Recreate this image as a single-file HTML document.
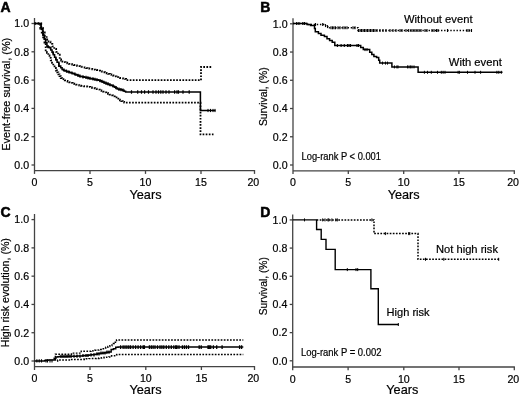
<!DOCTYPE html>
<html><head><meta charset="utf-8"><style>
html,body{margin:0;padding:0;background:#fff;}
svg{display:block;will-change:transform;}
text{font-family:"Liberation Sans", sans-serif;fill:#000;stroke:#000;stroke-width:0.2;}
.lb{stroke-width:0.5;}
</style></head><body>
<svg width="520" height="395" viewBox="0 0 520 395">
<rect width="520" height="395" fill="#fff"/>
<line x1="34.5" y1="18.0" x2="34.5" y2="173.9" stroke="#444" stroke-width="1.3"/>
<line x1="34.5" y1="170.6" x2="255.1" y2="170.6" stroke="#444" stroke-width="1.3"/>
<line x1="90.0" y1="170.6" x2="90.0" y2="173.9" stroke="#444" stroke-width="1.3"/>
<line x1="145.5" y1="170.6" x2="145.5" y2="173.9" stroke="#444" stroke-width="1.3"/>
<line x1="201.0" y1="170.6" x2="201.0" y2="173.9" stroke="#444" stroke-width="1.3"/>
<line x1="254.5" y1="170.6" x2="254.5" y2="173.9" stroke="#444" stroke-width="1.3"/>
<line x1="31.5" y1="23.5" x2="34.5" y2="23.5" stroke="#444" stroke-width="1.3"/>
<text x="29.1" y="27.3" font-size="10.6" text-anchor="end">1.0</text>
<line x1="31.5" y1="51.8" x2="34.5" y2="51.8" stroke="#444" stroke-width="1.3"/>
<text x="29.1" y="55.6" font-size="10.6" text-anchor="end">0.8</text>
<line x1="31.5" y1="80.1" x2="34.5" y2="80.1" stroke="#444" stroke-width="1.3"/>
<text x="29.1" y="83.9" font-size="10.6" text-anchor="end">0.6</text>
<line x1="31.5" y1="108.4" x2="34.5" y2="108.4" stroke="#444" stroke-width="1.3"/>
<text x="29.1" y="112.2" font-size="10.6" text-anchor="end">0.4</text>
<line x1="31.5" y1="136.7" x2="34.5" y2="136.7" stroke="#444" stroke-width="1.3"/>
<text x="29.1" y="140.5" font-size="10.6" text-anchor="end">0.2</text>
<line x1="31.5" y1="165.0" x2="34.5" y2="165.0" stroke="#444" stroke-width="1.3"/>
<text x="29.1" y="168.8" font-size="10.6" text-anchor="end">0.0</text>
<text x="34.5" y="186.2" font-size="10.6" text-anchor="middle">0</text>
<text x="90.0" y="186.2" font-size="10.6" text-anchor="middle">5</text>
<text x="145.5" y="186.2" font-size="10.6" text-anchor="middle">10</text>
<text x="201.0" y="186.2" font-size="10.6" text-anchor="middle">15</text>
<text x="247.4" y="186.2" font-size="10.6">20</text>
<text x="145.5" y="198.5" font-size="13" text-anchor="middle" textLength="32" lengthAdjust="spacingAndGlyphs">Years</text>
<text x="0.6" y="11.9" font-size="14" font-weight="bold" class="lb">A</text>
<text transform="translate(9.6,94.3) rotate(-90)" font-size="11" text-anchor="middle" textLength="113" lengthAdjust="spacingAndGlyphs">Event-free survival, (%)</text>
<path d="M34.50,23.50H40.30H41.15V29.00H42.00H42.90V35.10H43.80H44.42V38.90H45.67V42.70H46.30H46.95V46.50H47.60H48.23V47.10H49.48V47.70H50.10H50.75V49.95H52.05V52.20H52.70H53.33V54.70H54.58V57.20H55.20H55.83V59.75H57.08V62.30H57.70H58.85V66.10H60.00H60.70V67.80H62.10V69.50H62.80H63.45V70.15H64.75V70.80H65.40H66.21V71.34H67.83V71.88H69.45V72.42H71.07V72.96H72.69V73.50H73.50H74.34V74.17H76.01V74.85H77.69V75.53H79.36V76.20H80.20H80.98V76.53H82.55V76.87H84.12V77.20H85.68V77.53H87.25V77.87H88.82V78.20H89.60H90.38V78.53H91.95V78.87H93.52V79.20H95.08V79.53H96.65V79.87H98.22V80.20H99.00H99.81V80.88H101.43V81.56H103.05V82.24H104.67V82.92H106.29V83.60H107.10H107.94V84.25H109.61V84.90H111.29V85.55H112.96V86.20H113.80H114.48V87.10H115.85V88.00H117.22V88.90H117.90H118.80V89.37H120.60V89.83H122.40V90.30H123.30H124.08V91.15H125.62V92.00H126.40H200.4V110.5H215.5" fill="none" stroke="#000" stroke-width="1.55"/>
<path d="M131.5,90.30v3.4M137.7,90.30v3.4M141.5,90.30v3.4M144.6,90.30v3.4M148.5,90.30v3.4M153,90.30v3.4M156,90.30v3.4M158.5,90.30v3.4M160.8,90.30v3.4M163,90.30v3.4M166,90.30v3.4M169,90.30v3.4M174.6,90.30v3.4M177,90.30v3.4M178.5,90.30v3.4M183,90.30v3.4M189.2,90.30v3.4" stroke="#000" stroke-width="1.2"/>
<path d="M208,108.90v3.2M210.5,108.90v3.2M213,108.90v3.2M215,108.90v3.2" stroke="#000" stroke-width="1.0"/>
<path d="M43,30.79v3.2" stroke="#000" stroke-width="1.2"/>
<path d="M45.5,38.67v3.2" stroke="#000" stroke-width="1.2"/>
<path d="M48,45.09v3.2" stroke="#000" stroke-width="1.2"/>
<path d="M50.5,46.79v3.2" stroke="#000" stroke-width="1.2"/>
<path d="M53,51.20v3.2" stroke="#000" stroke-width="1.2"/>
<path d="M56,57.23v3.2" stroke="#000" stroke-width="1.2"/>
<path d="M59,62.85v3.2" stroke="#000" stroke-width="1.2"/>
<path d="M64,68.50v3.2" stroke="#000" stroke-width="1.2"/>
<path d="M66.5,69.57v3.2" stroke="#000" stroke-width="1.2"/>
<path d="M69,70.40v3.2" stroke="#000" stroke-width="1.2"/>
<path d="M72,71.40v3.2" stroke="#000" stroke-width="1.2"/>
<path d="M75,72.50v3.2" stroke="#000" stroke-width="1.2"/>
<path d="M78,73.71v3.2" stroke="#000" stroke-width="1.2"/>
<path d="M80,74.52v3.2" stroke="#000" stroke-width="1.2"/>
<path d="M83,75.20v3.2" stroke="#000" stroke-width="1.2"/>
<path d="M86,75.83v3.2" stroke="#000" stroke-width="1.2"/>
<path d="M88,76.26v3.2" stroke="#000" stroke-width="1.2"/>
<path d="M90,76.69v3.2" stroke="#000" stroke-width="1.2"/>
<path d="M93,77.32v3.2" stroke="#000" stroke-width="1.2"/>
<path d="M95,77.75v3.2" stroke="#000" stroke-width="1.2"/>
<path d="M97,78.17v3.2" stroke="#000" stroke-width="1.2"/>
<path d="M100,79.02v3.2" stroke="#000" stroke-width="1.2"/>
<path d="M102,79.86v3.2" stroke="#000" stroke-width="1.2"/>
<path d="M104,80.70v3.2" stroke="#000" stroke-width="1.2"/>
<path d="M106,81.54v3.2" stroke="#000" stroke-width="1.2"/>
<path d="M108,82.35v3.2" stroke="#000" stroke-width="1.2"/>
<path d="M110,83.13v3.2" stroke="#000" stroke-width="1.2"/>
<path d="M113,84.29v3.2" stroke="#000" stroke-width="1.2"/>
<path d="M116,86.05v3.2" stroke="#000" stroke-width="1.2"/>
<path d="M119,87.59v3.2" stroke="#000" stroke-width="1.2"/>
<path d="M121,88.10v3.2" stroke="#000" stroke-width="1.2"/>
<path d="M123,88.62v3.2" stroke="#000" stroke-width="1.2"/>
<path d="M34.50,23.50H40.50H41.25V28.00H42.00H42.90V32.50H43.80H44.75V36.00H46.65V39.50H47.60H48.55V41.70H50.45V43.90H51.40H52.35V46.45H54.25V49.00H55.20H56.15V51.85H58.05V54.70H59.00H59.75V59.50H60.50H61.12V60.50H62.38V61.50H63.00H63.85V62.13H65.55V62.77H67.25V63.40H68.10H68.91V63.80H70.53V64.20H72.15V64.60H73.77V65.00H75.39V65.40H76.20H76.96V65.79H78.49V66.17H80.02V66.56H81.55V66.94H83.08V67.33H84.61V67.71H86.14V68.10H86.90H87.67V68.39H89.21V68.67H90.76V68.96H92.30V69.24H93.84V69.53H95.39V69.81H96.93V70.10H97.70H98.51V70.64H100.13V71.18H101.75V71.72H103.37V72.26H104.99V72.80H105.80H106.60V73.34H108.20V73.88H109.80V74.42H111.40V74.96H113.00V75.50H113.80H114.70V76.33H116.50V77.17H118.30V78.00H119.20H120.03V78.20H121.67V78.40H123.33V78.60H124.97V78.80H125.80H126.15V80.20H126.50H201V67H212" fill="none" stroke="#000" stroke-width="1.8" stroke-dasharray="1.7 1.4"/>
<path d="M34.50,23.50H39.50H40.25V28.50H41.00H41.75V33.80H42.50H43.15V38.25H44.45V42.70H45.10H45.70V50.30H46.30H46.95V52.80H48.25V55.30H48.90H49.52V57.85H50.77V60.40H51.40H52.02V62.90H53.27V65.40H53.90H54.55V67.95H55.85V70.50H56.50H57.12V72.40H58.38V74.30H59.00H59.50V76.20H60.00H60.75V78.10H61.50H62.15V79.05H63.45V80.00H64.10H64.75V80.45H66.05V80.90H66.70H67.55V81.58H69.25V82.25H70.95V82.92H72.65V83.60H73.50H74.34V84.10H76.01V84.60H77.69V85.10H79.36V85.60H80.20H80.98V85.82H82.55V86.03H84.12V86.25H85.68V86.47H87.25V86.68H88.82V86.90H89.60H90.38V87.35H91.95V87.80H93.52V88.25H95.08V88.70H96.65V89.15H98.22V89.60H99.00H99.81V90.28H101.43V90.96H103.05V91.64H104.67V92.32H106.29V93.00H107.10H107.94V93.83H109.61V94.65H111.29V95.47H112.96V96.30H113.80H114.70V97.43H116.50V98.57H118.30V99.70H119.20H119.91V100.42H121.34V101.15H122.76V101.88H124.19V102.60H124.90H200.5V134.4H213.5" fill="none" stroke="#000" stroke-width="1.8" stroke-dasharray="1.7 1.4"/>
<line x1="293.0" y1="18.2" x2="293.0" y2="174.10000000000002" stroke="#444" stroke-width="1.3"/>
<line x1="293.0" y1="170.8" x2="514.9" y2="170.8" stroke="#444" stroke-width="1.3"/>
<line x1="348.3" y1="170.8" x2="348.3" y2="174.10000000000002" stroke="#444" stroke-width="1.3"/>
<line x1="403.7" y1="170.8" x2="403.7" y2="174.10000000000002" stroke="#444" stroke-width="1.3"/>
<line x1="458.9" y1="170.8" x2="458.9" y2="174.10000000000002" stroke="#444" stroke-width="1.3"/>
<line x1="514.3" y1="170.8" x2="514.3" y2="174.10000000000002" stroke="#444" stroke-width="1.3"/>
<line x1="290.0" y1="23.8" x2="293.0" y2="23.8" stroke="#444" stroke-width="1.3"/>
<text x="287.6" y="27.6" font-size="10.6" text-anchor="end">1.0</text>
<line x1="290.0" y1="52.04" x2="293.0" y2="52.04" stroke="#444" stroke-width="1.3"/>
<text x="287.6" y="55.84" font-size="10.6" text-anchor="end">0.8</text>
<line x1="290.0" y1="80.28" x2="293.0" y2="80.28" stroke="#444" stroke-width="1.3"/>
<text x="287.6" y="84.08" font-size="10.6" text-anchor="end">0.6</text>
<line x1="290.0" y1="108.52" x2="293.0" y2="108.52" stroke="#444" stroke-width="1.3"/>
<text x="287.6" y="112.32" font-size="10.6" text-anchor="end">0.4</text>
<line x1="290.0" y1="136.76" x2="293.0" y2="136.76" stroke="#444" stroke-width="1.3"/>
<text x="287.6" y="140.56" font-size="10.6" text-anchor="end">0.2</text>
<line x1="290.0" y1="165.0" x2="293.0" y2="165.0" stroke="#444" stroke-width="1.3"/>
<text x="287.6" y="168.8" font-size="10.6" text-anchor="end">0.0</text>
<text x="293.0" y="186.4" font-size="10.6" text-anchor="middle">0</text>
<text x="348.3" y="186.4" font-size="10.6" text-anchor="middle">5</text>
<text x="403.7" y="186.4" font-size="10.6" text-anchor="middle">10</text>
<text x="458.9" y="186.4" font-size="10.6" text-anchor="middle">15</text>
<text x="507.2" y="186.4" font-size="10.6">20</text>
<text x="403.7" y="198.5" font-size="13" text-anchor="middle" textLength="32" lengthAdjust="spacingAndGlyphs">Years</text>
<text x="260.2" y="11.9" font-size="14" font-weight="bold" class="lb">B</text>
<text transform="translate(267.3,96.7) rotate(-90)" font-size="11" text-anchor="middle" textLength="58.7" lengthAdjust="spacingAndGlyphs">Survival, (%)</text>
<path d="M293,23.5H307V24.5H324.5V25.6H327V26.6H329.5V27.8H358V30.5H472" fill="none" stroke="#000" stroke-width="1.4" stroke-dasharray="1.4 1.7"/>
<path d="M315.5,23.00v3.0" stroke="#000" stroke-width="1.1"/>
<path d="M322.7,23.00v3.0" stroke="#000" stroke-width="1.1"/>
<path d="M325.5,24.10v3.0" stroke="#000" stroke-width="1.1"/>
<path d="M327.5,25.10v3.0" stroke="#000" stroke-width="1.1"/>
<path d="M331,26.30v3.0" stroke="#000" stroke-width="1.1"/>
<path d="M332.5,26.30v3.0" stroke="#000" stroke-width="1.1"/>
<path d="M334,26.30v3.0" stroke="#000" stroke-width="1.1"/>
<path d="M335.5,26.30v3.0" stroke="#000" stroke-width="1.1"/>
<path d="M338,26.30v3.0" stroke="#000" stroke-width="1.1"/>
<path d="M340,26.30v3.0" stroke="#000" stroke-width="1.1"/>
<path d="M343,26.30v3.0" stroke="#000" stroke-width="1.1"/>
<path d="M345,26.30v3.0" stroke="#000" stroke-width="1.1"/>
<path d="M347,26.30v3.0" stroke="#000" stroke-width="1.1"/>
<path d="M353,26.30v3.0" stroke="#000" stroke-width="1.1"/>
<path d="M355,26.30v3.0" stroke="#000" stroke-width="1.1"/>
<path d="M358.5,29.00v3.0" stroke="#000" stroke-width="1.1"/>
<path d="M360,29.00v3.0" stroke="#000" stroke-width="1.1"/>
<path d="M361.5,29.00v3.0" stroke="#000" stroke-width="1.1"/>
<path d="M363,29.00v3.0" stroke="#000" stroke-width="1.1"/>
<path d="M364.5,29.00v3.0" stroke="#000" stroke-width="1.1"/>
<path d="M366,29.00v3.0" stroke="#000" stroke-width="1.1"/>
<path d="M367.5,29.00v3.0" stroke="#000" stroke-width="1.1"/>
<path d="M369,29.00v3.0" stroke="#000" stroke-width="1.1"/>
<path d="M370.5,29.00v3.0" stroke="#000" stroke-width="1.1"/>
<path d="M372,29.00v3.0" stroke="#000" stroke-width="1.1"/>
<path d="M373.5,29.00v3.0" stroke="#000" stroke-width="1.1"/>
<path d="M375,29.00v3.0" stroke="#000" stroke-width="1.1"/>
<path d="M377,29.00v3.0" stroke="#000" stroke-width="1.1"/>
<path d="M380,29.00v3.0" stroke="#000" stroke-width="1.1"/>
<path d="M383,29.00v3.0" stroke="#000" stroke-width="1.1"/>
<path d="M386,29.00v3.0" stroke="#000" stroke-width="1.1"/>
<path d="M390,29.00v3.0" stroke="#000" stroke-width="1.1"/>
<path d="M393,29.00v3.0" stroke="#000" stroke-width="1.1"/>
<path d="M396,29.00v3.0" stroke="#000" stroke-width="1.1"/>
<path d="M400,29.00v3.0" stroke="#000" stroke-width="1.1"/>
<path d="M402,29.00v3.0" stroke="#000" stroke-width="1.1"/>
<path d="M406,29.00v3.0" stroke="#000" stroke-width="1.1"/>
<path d="M408.7,29.00v3.0" stroke="#000" stroke-width="1.1"/>
<path d="M411,29.00v3.0" stroke="#000" stroke-width="1.1"/>
<path d="M413,29.00v3.0" stroke="#000" stroke-width="1.1"/>
<path d="M415,29.00v3.0" stroke="#000" stroke-width="1.1"/>
<path d="M417,29.00v3.0" stroke="#000" stroke-width="1.1"/>
<path d="M419,29.00v3.0" stroke="#000" stroke-width="1.1"/>
<path d="M421,29.00v3.0" stroke="#000" stroke-width="1.1"/>
<path d="M425,29.00v3.0" stroke="#000" stroke-width="1.1"/>
<path d="M427,29.00v3.0" stroke="#000" stroke-width="1.1"/>
<path d="M432,29.00v3.0" stroke="#000" stroke-width="1.1"/>
<path d="M434,29.00v3.0" stroke="#000" stroke-width="1.1"/>
<path d="M436.5,29.00v3.0" stroke="#000" stroke-width="1.1"/>
<path d="M438,29.00v3.0" stroke="#000" stroke-width="1.1"/>
<path d="M447.5,29.00v3.0" stroke="#000" stroke-width="1.1"/>
<path d="M467,29.00v3.0" stroke="#000" stroke-width="1.1"/>
<path d="M469,29.00v3.0" stroke="#000" stroke-width="1.1"/>
<path d="M471.5,29.00v3.0" stroke="#000" stroke-width="1.1"/>
<path d="M293,23.5H307V24.5H310.5V25.5H314.5V28.5H315.3V31.8H318.4V33.6H321V35.3H324.4V36.6H327V38.8H329.6V40.5H332.2V42.2H334.8V45.5H360.7V47.5H363.3V49.6H369.7V52.3H371.8V54.4H373.9V56.5H376.6V57.6H378.7V60.2H379.7V63.1H391.9V66.9H418.1V72.3H502.5" fill="none" stroke="#000" stroke-width="1.5"/>
<path d="M296.7,22.00v3.0M298.9,22.00v3.0M302.8,22.00v3.0M304.5,22.00v3.0" stroke="#000" stroke-width="1.1"/>
<path d="M337.4,44.00v3.0M341.1,44.00v3.0M344.3,44.00v3.0M347.5,44.00v3.0M349,44.00v3.0M350.5,44.00v3.0M357,44.00v3.0M358.5,44.00v3.0" stroke="#000" stroke-width="1.1"/>
<path d="M365,48.10v3.0M367,48.10v3.0" stroke="#000" stroke-width="1.0"/>
<path d="M382.5,61.60v3.0M385.5,61.60v3.0M387.5,61.60v3.0" stroke="#000" stroke-width="1.0"/>
<path d="M394.4,65.40v3.0M396.9,65.40v3.0M398,65.40v3.0M407.5,65.40v3.0M409,65.40v3.0M410.6,65.40v3.0M412,65.40v3.0M414,65.40v3.0" stroke="#000" stroke-width="1.0"/>
<path d="M424.4,70.80v3.0M427.5,70.80v3.0M431.3,70.80v3.0M437.5,70.80v3.0M441.3,70.80v3.0M443.1,70.80v3.0M445,70.80v3.0M458.1,70.80v3.0M459.4,70.80v3.0M467.5,70.80v3.0M475,70.80v3.0M480.6,70.80v3.0M496.9,70.80v3.0M498.8,70.80v3.0M501.3,70.80v3.0" stroke="#000" stroke-width="1.0"/>
<text x="404.0" y="22.6" font-size="11" textLength="68.5" lengthAdjust="spacingAndGlyphs">Without event</text>
<text x="448.8" y="65.8" font-size="11" textLength="53" lengthAdjust="spacingAndGlyphs">With event</text>
<text x="301.5" y="160.3" font-size="10.5" textLength="79.5" lengthAdjust="spacingAndGlyphs">Log-rank P &lt; 0.001</text>
<line x1="34.5" y1="214.0" x2="34.5" y2="370.0" stroke="#444" stroke-width="1.3"/>
<line x1="34.5" y1="366.7" x2="255.1" y2="366.7" stroke="#444" stroke-width="1.3"/>
<line x1="90.0" y1="366.7" x2="90.0" y2="370.0" stroke="#444" stroke-width="1.3"/>
<line x1="145.8" y1="366.7" x2="145.8" y2="370.0" stroke="#444" stroke-width="1.3"/>
<line x1="201.4" y1="366.7" x2="201.4" y2="370.0" stroke="#444" stroke-width="1.3"/>
<line x1="254.5" y1="366.7" x2="254.5" y2="370.0" stroke="#444" stroke-width="1.3"/>
<line x1="31.5" y1="219.6" x2="34.5" y2="219.6" stroke="#444" stroke-width="1.3"/>
<text x="29.1" y="223.4" font-size="10.6" text-anchor="end">1.0</text>
<line x1="31.5" y1="247.88" x2="34.5" y2="247.88" stroke="#444" stroke-width="1.3"/>
<text x="29.1" y="251.68" font-size="10.6" text-anchor="end">0.8</text>
<line x1="31.5" y1="276.15999999999997" x2="34.5" y2="276.15999999999997" stroke="#444" stroke-width="1.3"/>
<text x="29.1" y="279.96" font-size="10.6" text-anchor="end">0.6</text>
<line x1="31.5" y1="304.44" x2="34.5" y2="304.44" stroke="#444" stroke-width="1.3"/>
<text x="29.1" y="308.24" font-size="10.6" text-anchor="end">0.4</text>
<line x1="31.5" y1="332.72" x2="34.5" y2="332.72" stroke="#444" stroke-width="1.3"/>
<text x="29.1" y="336.52" font-size="10.6" text-anchor="end">0.2</text>
<line x1="31.5" y1="361.0" x2="34.5" y2="361.0" stroke="#444" stroke-width="1.3"/>
<text x="29.1" y="364.8" font-size="10.6" text-anchor="end">0.0</text>
<text x="34.5" y="382.3" font-size="10.6" text-anchor="middle">0</text>
<text x="90.0" y="382.3" font-size="10.6" text-anchor="middle">5</text>
<text x="145.8" y="382.3" font-size="10.6" text-anchor="middle">10</text>
<text x="201.4" y="382.3" font-size="10.6" text-anchor="middle">15</text>
<text x="247.4" y="382.3" font-size="10.6">20</text>
<text x="145.5" y="394.0" font-size="13" text-anchor="middle" textLength="32" lengthAdjust="spacingAndGlyphs">Years</text>
<text x="0.4" y="216.8" font-size="14" font-weight="bold" class="lb">C</text>
<text transform="translate(9.4,292.7) rotate(-90)" font-size="11" text-anchor="middle" textLength="109.2" lengthAdjust="spacingAndGlyphs">High risk evolution, (%)</text>
<path d="M57.00,361.00H57.60V360.00H58.20H69.80H70.40V359.40H71.00H83.60H84.30V358.80H85.00H86.27V358.72H88.81V358.64H91.35V358.56H93.89V358.48H96.43V358.40H97.70H98.98V358.03H101.55V357.67H104.12V357.30H105.40H106.55V357.10H108.85V356.90H110.00H111.55V355.80H113.10H114.65V354.80H116.20H116.95V354.50H117.70H243.3" fill="none" stroke="#000" stroke-width="1.45" stroke-dasharray="1.7 1.4"/>
<path d="M54.80,360.00H55.35V354.20H55.90H70.90H71.45V353.10H72.00H80.10H81.25V351.30H82.40H90.00H90.96V350.98H92.89V350.65H94.81V350.32H96.74V350.00H97.70H98.85V349.40H101.15V348.80H102.30H103.45V348.05H105.75V347.30H106.90H107.88V346.55H109.83V345.80H110.80H111.95V343.50H113.10H114.25V342.20H115.40H116.55V339.90H117.70H243.3" fill="none" stroke="#000" stroke-width="1.45" stroke-dasharray="1.7 1.4"/>
<path d="M34.50,361.10H44.40H44.70V360.60H45.00H46.00V360.30H48.00V360.00H49.00H53.60H54.20V358.30H54.80H55.90V357.10H57.00H57.88V356.80H59.62V356.50H60.50H61.46V356.47H63.38V356.43H65.29V356.40H67.21V356.37H69.12V356.33H71.04V356.30H72.00H72.93V356.22H74.79V356.14H76.65V356.06H78.51V355.98H80.37V355.90H81.30H82.45V355.67H84.75V355.43H87.05V355.20H88.20H89.27V355.00H91.40V354.80H93.53V354.60H94.60H95.50V354.23H97.30V353.87H99.10V353.50H100.00H100.90V353.23H102.70V352.97H104.50V352.70H105.40H106.55V352.30H108.85V351.90H110.00H111.15V349.60H112.30H113.45V348.80H114.60H115.75V347.30H116.90H118.05V347.10H119.20H243.3" fill="none" stroke="#000" stroke-width="1.5"/>
<path d="M36.9,359.20v3.2M39.2,359.20v3.2M41.5,359.20v3.2M46,359.20v3.2M47.5,359.20v3.2M50,359.20v3.2M52,359.20v3.2" stroke="#000" stroke-width="1.1"/>
<path d="M61,354.80v3.2M63,354.80v3.2M65,354.80v3.2M67,354.80v3.2M69,354.80v3.2M71,354.80v3.2" stroke="#000" stroke-width="1.3"/>
<path d="M74,354.50v3.2M77,354.50v3.2M80,354.50v3.2" stroke="#000" stroke-width="1.3"/>
<path d="M83,353.90v3.2M86,353.90v3.2M88,353.90v3.2" stroke="#000" stroke-width="1.3"/>
<path d="M91,353.20v3.2M94,353.20v3.2" stroke="#000" stroke-width="1.3"/>
<path d="M97,352.20v3.2M99,352.20v3.2" stroke="#000" stroke-width="1.3"/>
<path d="M101,351.40v3.2M103,351.40v3.2M105,351.40v3.2" stroke="#000" stroke-width="1.3"/>
<path d="M107,350.60v3.2M109,350.60v3.2" stroke="#000" stroke-width="1.3"/>
<path d="M120.6,345.30v3.6M123.1,345.30v3.6M125,345.30v3.6M126.9,345.30v3.6M128.8,345.30v3.6M130.6,345.30v3.6M133.1,345.30v3.6M135.6,345.30v3.6M138.1,345.30v3.6M140.6,345.30v3.6M143.1,345.30v3.6M144.4,345.30v3.6M149.4,345.30v3.6M151.3,345.30v3.6M153.1,345.30v3.6M155,345.30v3.6M157.5,345.30v3.6M160,345.30v3.6M161.9,345.30v3.6M163.8,345.30v3.6M166.3,345.30v3.6M168.8,345.30v3.6M171.3,345.30v3.6M173.8,345.30v3.6M175.7,345.30v3.6M177,345.30v3.6M179,345.30v3.6M182.4,345.30v3.6M184.4,345.30v3.6M186.4,345.30v3.6M188.5,345.30v3.6M199.2,345.30v3.6M201.2,345.30v3.6M208,345.30v3.6M209.3,345.30v3.6M210.7,345.30v3.6M213.4,345.30v3.6M216.7,345.30v3.6M222.1,345.30v3.6M239.6,345.30v3.6M241.6,345.30v3.6" stroke="#000" stroke-width="1.3"/>
<line x1="292.7" y1="214.4" x2="292.7" y2="370.3" stroke="#444" stroke-width="1.3"/>
<line x1="292.7" y1="367.0" x2="514.9" y2="367.0" stroke="#444" stroke-width="1.3"/>
<line x1="348.1" y1="367.0" x2="348.1" y2="370.3" stroke="#444" stroke-width="1.3"/>
<line x1="403.8" y1="367.0" x2="403.8" y2="370.3" stroke="#444" stroke-width="1.3"/>
<line x1="459.0" y1="367.0" x2="459.0" y2="370.3" stroke="#444" stroke-width="1.3"/>
<line x1="514.3" y1="367.0" x2="514.3" y2="370.3" stroke="#444" stroke-width="1.3"/>
<line x1="289.7" y1="219.9" x2="292.7" y2="219.9" stroke="#444" stroke-width="1.3"/>
<text x="287.3" y="223.7" font-size="10.6" text-anchor="end">1.0</text>
<line x1="289.7" y1="248.08" x2="292.7" y2="248.08" stroke="#444" stroke-width="1.3"/>
<text x="287.3" y="251.88" font-size="10.6" text-anchor="end">0.8</text>
<line x1="289.7" y1="276.26" x2="292.7" y2="276.26" stroke="#444" stroke-width="1.3"/>
<text x="287.3" y="280.06" font-size="10.6" text-anchor="end">0.6</text>
<line x1="289.7" y1="304.44" x2="292.7" y2="304.44" stroke="#444" stroke-width="1.3"/>
<text x="287.3" y="308.24" font-size="10.6" text-anchor="end">0.4</text>
<line x1="289.7" y1="332.62" x2="292.7" y2="332.62" stroke="#444" stroke-width="1.3"/>
<text x="287.3" y="336.42" font-size="10.6" text-anchor="end">0.2</text>
<line x1="289.7" y1="360.8" x2="292.7" y2="360.8" stroke="#444" stroke-width="1.3"/>
<text x="287.3" y="364.6" font-size="10.6" text-anchor="end">0.0</text>
<text x="292.7" y="382.6" font-size="10.6" text-anchor="middle">0</text>
<text x="348.1" y="382.6" font-size="10.6" text-anchor="middle">5</text>
<text x="403.8" y="382.6" font-size="10.6" text-anchor="middle">10</text>
<text x="459.0" y="382.6" font-size="10.6" text-anchor="middle">15</text>
<text x="507.4" y="382.6" font-size="10.6">20</text>
<text x="402.3" y="394.0" font-size="13" text-anchor="middle" textLength="32" lengthAdjust="spacingAndGlyphs">Years</text>
<text x="260.2" y="217.0" font-size="14" font-weight="bold" class="lb">D</text>
<text transform="translate(266.8,286.2) rotate(-90)" font-size="11" text-anchor="middle" textLength="58.1" lengthAdjust="spacingAndGlyphs">Survival, (%)</text>
<path d="M316.6,219.9H374.0V233.6H418.0V259.3H499.3" fill="none" stroke="#000" stroke-width="1.5" stroke-dasharray="1.7 1.4"/>
<path d="M292.7,219.9H316.6V229.5H321.2V239.4H326V249.4H335.2V269.6H370.9V288.8H378.3V324.5H398.5" fill="none" stroke="#000" stroke-width="1.4"/>
<path d="M304.5,218.40v3.0M322.7,218.40v3.0M325,218.40v3.0M328,218.40v3.0M328.8,218.40v3.0M331.9,218.40v3.0M335.8,218.40v3.0M337.3,218.40v3.0M371.9,218.40v3.0" stroke="#000" stroke-width="1.0"/>
<path d="M385.4,232.10v3.0M408.7,232.10v3.0M409.8,232.10v3.0" stroke="#000" stroke-width="1.0"/>
<path d="M425.5,257.80v3.0M443.8,257.80v3.0M498.7,257.80v3.0" stroke="#000" stroke-width="1.0"/>
<path d="M347.3,268.10v3.0M356,268.10v3.0M357.7,268.10v3.0" stroke="#000" stroke-width="1.0"/>
<path d="M398.3,323.00v3.0" stroke="#000" stroke-width="1.0"/>
<text x="436.0" y="253.2" font-size="11" textLength="62" lengthAdjust="spacingAndGlyphs">Not high risk</text>
<text x="386.6" y="316.4" font-size="11" textLength="43" lengthAdjust="spacingAndGlyphs">High risk</text>
<text x="301.0" y="356.0" font-size="10.5" textLength="80.5" lengthAdjust="spacingAndGlyphs">Log-rank P = 0.002</text>
</svg>
</body></html>
